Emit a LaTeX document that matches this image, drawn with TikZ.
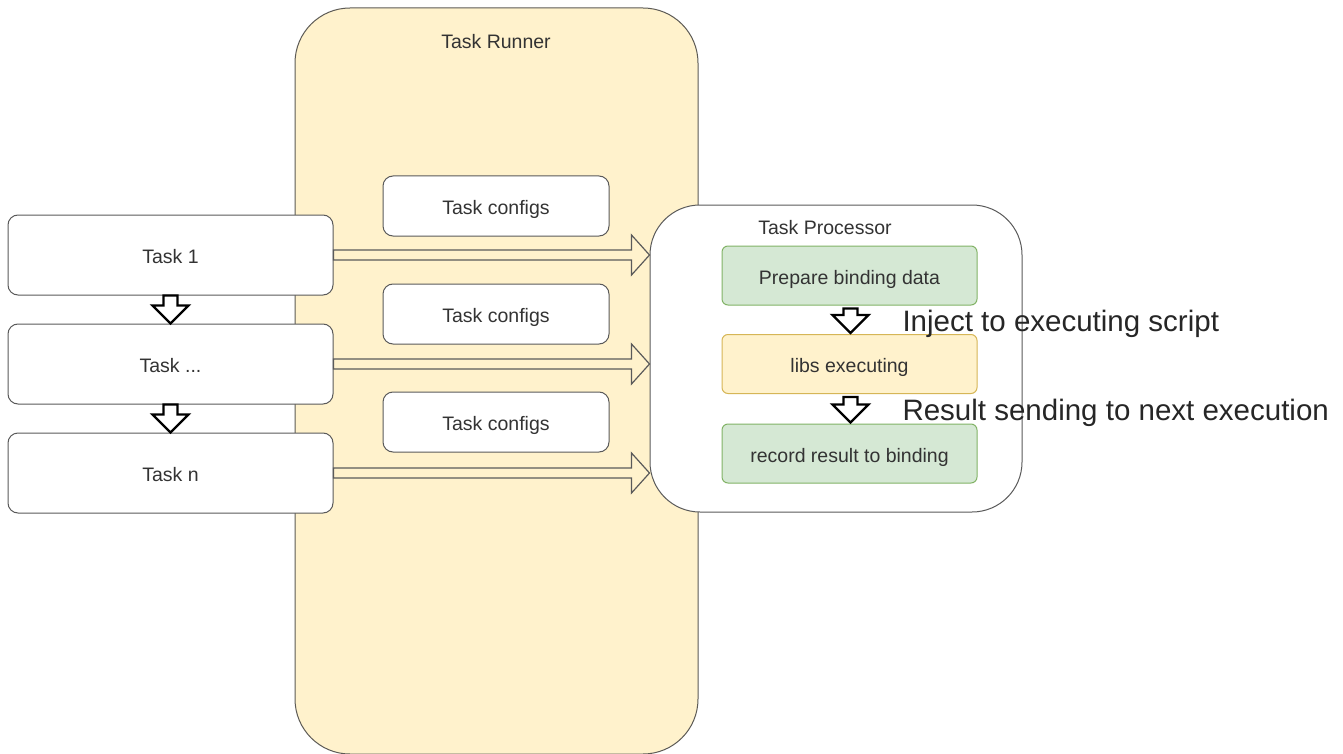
\documentclass[tikz,border=0pt]{standalone}
\usepackage{fontspec}
\setmainfont{Liberation Sans}
\usetikzlibrary{calc}
\definecolor{runnerfill}{HTML}{FFF2CC}
\definecolor{runnerline}{HTML}{5C5A55}
\definecolor{boxline}{HTML}{5A5A5A}
\definecolor{greenfill}{HTML}{D5E8D4}
\definecolor{greenline}{HTML}{82B366}
\definecolor{yellowline}{HTML}{D6B656}
\definecolor{txt}{HTML}{333333}

% hollow arrow to the right, tip on the x of #2
\newcommand{\hollowright}[2]{%
  \draw[flowarrow] let \p1=(#1), \p2=(#2) in
    (\x1,\y1+5pt) -- (\x2-18pt,\y1+5pt) -- (\x2-18pt,\y1+20pt) -- (\x2,\y1)
    -- (\x2-18pt,\y1-20pt) -- (\x2-18pt,\y1-5pt) -- (\x1,\y1-5pt) -- cycle;}
% hollow arrow pointing down
\newcommand{\hollowdown}[2]{%
  \draw[droparrow] let \p1=(#1), \p2=(#2) in
    (\x1-7pt,\y1) -- (\x1+7pt,\y1) -- (\x1+7pt,\y2+18pt) -- (\x1+18pt,\y2+18pt)
    -- (\x1,\y2) -- (\x1-18pt,\y2+18pt) -- (\x1-7pt,\y2+18pt) -- cycle;}

\begin{document}
\begin{tikzpicture}[x=1pt,y=-1pt,
    every node/.style={font=\fontsize{19.5}{22}\selectfont,text=txt,
      text height=17pt,text depth=0pt},
    taskbox/.style={draw=boxline,fill=white,rounded corners=10pt,line width=1pt,
      minimum width=325pt,minimum height=80pt},
    cfgbox/.style={draw=boxline,fill=white,rounded corners=10pt,line width=1pt,
      minimum width=226pt,minimum height=60pt},
    stepbox/.style={rounded corners=6pt,line width=1pt,
      minimum width=255pt,minimum height=59pt},
    greenbox/.style={stepbox,draw=greenline,fill=greenfill},
    yellowbox/.style={stepbox,draw=yellowline,fill=runnerfill},
    flowarrow/.style={draw=boxline,line width=1.2pt,line join=miter},
    droparrow/.style={draw=black,fill=white,line width=2.4pt,line join=miter},
    note/.style={anchor=west,font=\fontsize{29.5}{32}\selectfont,text=black!85,
      text height=24pt}]
  \useasboundingbox (0,0) rectangle (1343,754);

  % runner
  \node[draw=runnerline,fill=runnerfill,rounded corners=55pt,line width=1pt,
    minimum width=403pt,minimum height=746pt] (runner) at (496.5,381) {};
  \node (runlbl) at (496,40) {Task Runner};

  % tasks
  \node[taskbox] (t1) at (170.5,255) {Task 1};
  \node[taskbox] (t2) at (170.5,364) {Task ...};
  \node[taskbox] (tn) at (170.5,473) {Task n};

  \node[cfgbox] (c1) at (496,206) {Task configs};
  \node[cfgbox] (c2) at (496,314) {Task configs};
  \node[cfgbox] (c3) at (496,422) {Task configs};

  % processor
  \node[draw=boxline,fill=white,rounded corners=50pt,line width=1pt,
    minimum width=372pt,minimum height=307pt] (proc) at (836,358.5) {};
  \node (proclbl) at (825,226) {Task Processor};
  \node[greenbox] (prep) at (849.5,275.5) {Prepare binding data};
  \node[yellowbox] (libs) at (849.5,364) {libs executing};
  \node[greenbox] (rec) at (849.5,453.5) {record result to binding};

  \hollowright{t1.east}{proc.west |- t1.east}
  \hollowright{t2.east}{proc.west |- t2.east}
  \hollowright{tn.east}{proc.west |- tn.east}

  \hollowdown{t1.south}{t2.north}
  \hollowdown{t2.south}{tn.north}
  \hollowdown{$(prep.south)+(1,3)$}{$(libs.north)+(1,-1)$}
  \hollowdown{$(libs.south)+(1,3)$}{$(rec.north)+(1,-1)$}

  \node[note] (inj) at (899,319) {Inject to executing script};
  \node[note] (res) at (899,408) {Result sending to next execution};
\end{tikzpicture}
\end{document}
